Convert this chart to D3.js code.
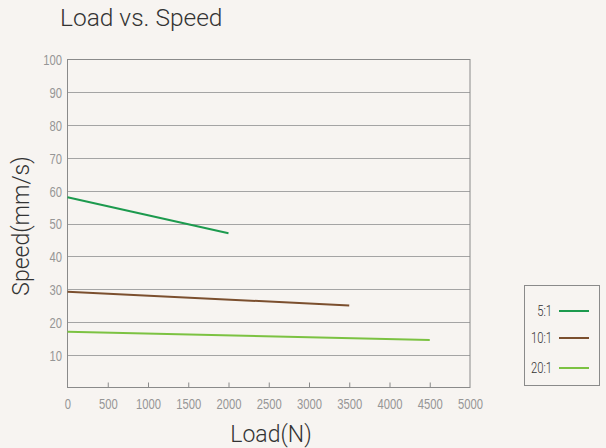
<!DOCTYPE html>
<html>
<head>
<meta charset="utf-8">
<script src="https://cdn.jsdelivr.net/npm/d3@7"></script>
<style>
  body { margin: 0; background: #f7f4f1; }
  svg { display: block; font-family: Roboto, "Liberation Sans", sans-serif; }
  .tick text { fill: #969696; font-size: 15px; font-weight: 300; }
</style>
</head>
<body>
<div id="chart"></div>
<script>
// data
var seriesNames = ['5:1', '10:1', '20:1']
var seriesColors = ['#1d9a4e', '#7b4f2e', '#7cc242']
var loads = [[0, 2000], [0, 3500], [0, 4500]]
var speeds = [[58, 47], [29.2, 25], [17, 14.5]]
var xTicks = [0, 500, 1000, 1500, 2000, 2500, 3000, 3500, 4000, 4500, 5000]
var yTicks = [10, 20, 30, 40, 50, 60, 70, 80, 90, 100]

var width = 606, height = 448
var margin = {top: 59.5, left: 67.5, right: 136, bottom: 60.5}
var plotW = 470 - margin.left, plotH = 387.5 - margin.top
var squeeze = 0.75 // narrow digits like the original

var svg = d3.select('#chart').append('svg')
  .attr('width', width)
  .attr('height', height)

svg.append('rect').attr('width', width).attr('height', height).attr('fill', '#f7f4f1')

var x = d3.scaleLinear().domain([0, 5000]).range([margin.left, margin.left + plotW])
var y = d3.scaleLinear().domain([0, 100]).range([margin.top + plotH, margin.top])

// grid lines
svg.append('g').selectAll('line')
  .data(yTicks.slice(0, -1))
  .enter().append('line')
  .attr('x1', x(0)).attr('x2', x(5000))
  .attr('y1', function(d) { return Math.round(y(d)) + 0.5 })
  .attr('y2', function(d) { return Math.round(y(d)) + 0.5 })
  .attr('stroke', '#a4a4a4')
  .attr('stroke-width', 1.2)

// frame
svg.append('rect')
  .attr('x', x(0)).attr('y', y(100))
  .attr('width', x(5000) - x(0)).attr('height', y(0) - y(100))
  .attr('fill', 'none')
  .attr('stroke', '#8a8a8a')
  .attr('stroke-width', 1)

// x axis
var xAxis = d3.axisBottom(x).tickValues(xTicks).tickSize(-5).tickFormat(d3.format('d'))
var gx = svg.append('g').attr('transform', 'translate(0,' + y(0) + ')').call(xAxis)
gx.select('.domain').remove()
gx.selectAll('.tick line').attr('stroke', '#8a8a8a')
gx.selectAll('.tick').filter(function(d) { return d === 0 || d === 5000 }).select('line').remove()
gx.selectAll('.tick text')
  .attr('y', 21.5).attr('dy', 0)
  .attr('transform', 'scale(' + squeeze + ',1)')

// y axis
var yAxis = d3.axisLeft(y).tickValues(yTicks).tickSize(0)
var gy = svg.append('g').attr('transform', 'translate(' + x(0) + ',0)').call(yAxis)
gy.select('.domain').remove()
gy.selectAll('.tick text')
  .attr('x', -5.5 / squeeze)
  .attr('dy', '0.36em')
  .attr('transform', 'scale(' + squeeze + ',1)')

// lines
var line = d3.line()
  .x(function(d) { return x(d[0]) })
  .y(function(d) { return y(d[1]) })

seriesNames.forEach(function(name, i) {
  var pts = loads[i].map(function(l, j) { return [l, speeds[i][j]] })
  svg.append('path')
    .datum(pts)
    .attr('d', line)
    .attr('fill', 'none')
    .attr('stroke', seriesColors[i])
    .attr('stroke-width', 2)
})

// titles
svg.append('text')
  .attr('x', 60).attr('y', 26)
  .attr('font-size', 24.5)
  .attr('font-weight', 300)
  .attr('fill', '#333')
  .text('Load vs. Speed')

svg.append('text')
  .attr('x', 271).attr('y', 442)
  .attr('text-anchor', 'middle')
  .attr('font-size', 23)
  .attr('font-weight', 300)
  .attr('fill', '#333')
  .text('Load(N)')

svg.append('text')
  .attr('transform', 'translate(29,226) rotate(-90)')
  .attr('text-anchor', 'middle')
  .attr('font-size', 23)
  .attr('font-weight', 300)
  .attr('fill', '#333')
  .text('Speed(mm/s)')

// legend
var legend = svg.append('g')
legend.append('rect')
  .attr('x', 524.5).attr('y', 285.5)
  .attr('width', 75).attr('height', 100)
  .attr('fill', 'none')
  .attr('stroke', '#8a8a8a')

var legendY = [311, 338, 368]
seriesNames.forEach(function(name, i) {
  legend.append('text')
    .attr('x', 552 / squeeze).attr('y', legendY[i] + 5)
    .attr('transform', 'scale(' + squeeze + ',1)')
    .attr('text-anchor', 'end')
    .attr('font-size', 15)
    .attr('font-weight', 300)
    .attr('fill', '#333')
    .text(name)
  legend.append('line')
    .attr('x1', 559).attr('x2', 589)
    .attr('y1', legendY[i]).attr('y2', legendY[i])
    .attr('stroke', seriesColors[i])
    .attr('stroke-width', 2)
})
</script>
</body>
</html>
